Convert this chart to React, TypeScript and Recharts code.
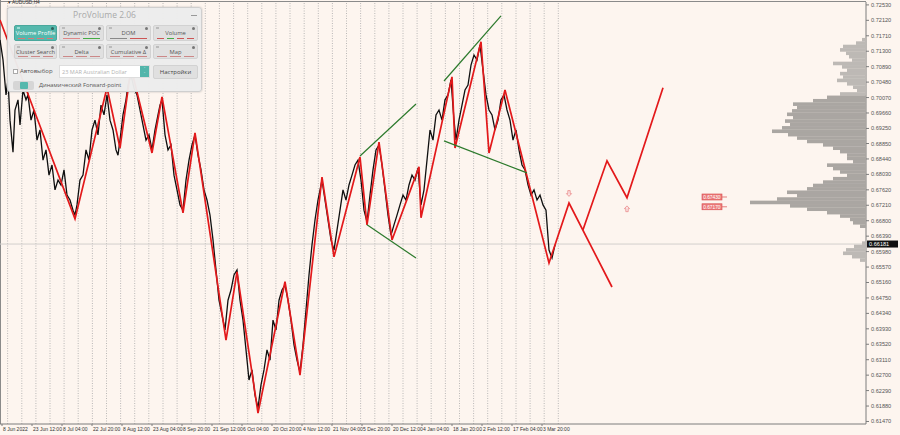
import React from 'react';
import {
  ComposedChart,
  Line,
  XAxis,
  YAxis,
  ReferenceLine,
  ReferenceDot,
  BarChart,
  Bar,
} from 'recharts';

const W = 900;
const H = 435;
const BG = '#fdf5ef';

// ---- axis labels ----
const dateTicks = [2, 32, 62, 92, 122, 152, 182, 212, 242, 272, 302, 332, 362, 392, 422, 452, 482, 512, 542];
const dateLabels = [
  '8 Jun 2022', '23 Jun 12:00', '8 Jul 04:00', '22 Jul 20:00', '8 Aug 12:00', '23 Aug 04:00',
  '8 Sep 20:00', '21 Sep 12:00', '6 Oct 04:00', '20 Oct 20:00', '4 Nov 12:00', '21 Nov 04:00',
  '5 Dec 20:00', '20 Dec 12:00', '4 Jan 04:00', '18 Jan 20:00', '2 Feb 12:00', '17 Feb 04:00', '3 Mar 20:00',
];
const priceTicks = [
  0.7253, 0.7212, 0.7171, 0.713, 0.7089, 0.7048, 0.7007, 0.6966, 0.6925, 0.6885, 0.6844, 0.6803, 0.6762, 0.6721,
  0.668, 0.6639, 0.6598, 0.6557, 0.6516, 0.6475, 0.6434, 0.6393, 0.6352, 0.6311, 0.627, 0.6229, 0.6188, 0.6147,
];
const priceDomain = [0.61403, 0.72607];
const barDomain = [0, 866];

// weekly separators (bar index)
const separators = [
  7.6, 21.8, 35.9, 50, 64.1, 78.2, 92.4, 106.5, 120.6, 134.7, 148.8, 163, 177.1, 191.2, 205.3, 219.4, 233.6, 247.7,
  261.8, 275.9, 290, 304.2, 318.3, 332.4, 346.5, 360.6, 374.8, 388.9, 403, 417.1, 431.2, 445.4, 459.5, 473.6,
  487.7, 501.8, 516, 530.1, 544.2, 558.3,
];

// ---- price (close) ----
const priceBar = [
  0, 3, 6, 8, 10, 13, 15, 18, 20, 23, 26, 28, 31, 34, 37, 40, 43, 46, 49, 52, 55, 58, 61, 64, 67, 70, 73, 75, 77,
  80, 83, 86, 89, 92, 95, 98, 101, 104, 107, 110, 113, 116, 118, 120, 123, 126, 128, 131, 134, 137, 140, 143, 146,
  149, 152, 155, 158, 160, 162, 165, 168, 171, 174, 177, 180, 183, 186, 189, 192, 195, 198, 201, 204, 207, 210, 213,
  216, 219, 222, 225, 228, 231, 234, 237, 240, 243, 246, 249, 252, 255, 258, 261, 264, 267, 270, 273, 276, 279, 282,
  285, 288, 291, 294, 297, 300, 303, 306, 309, 312, 315, 318, 322, 325, 328, 331, 334, 337, 340, 343, 346, 349, 352,
  355, 358, 361, 364, 367, 370, 373, 376, 379, 382, 385, 388, 391, 394, 397, 400, 403, 406, 409, 412, 415, 418, 421,
  424, 427, 430, 433, 436, 439, 442, 445, 448, 451, 454, 456, 459, 462, 465, 468, 471, 474, 477, 480, 483, 486, 489,
  492, 495, 498, 501, 504, 507, 510, 513, 516, 519, 522, 525, 528, 531, 534, 537, 540, 543, 546, 549, 552, 555,
];
const priceClose = [
  0.716, 0.7107, 0.7014, 0.7054, 0.6947, 0.6862, 0.6974, 0.7001, 0.6934, 0.7027, 0.7001, 0.7014, 0.6947, 0.6974,
  0.6894, 0.6921, 0.6841, 0.6868, 0.6801, 0.6828, 0.6762, 0.6788, 0.6775, 0.6815, 0.6748, 0.6735, 0.6708, 0.6695,
  0.6722, 0.6788, 0.6801, 0.6868, 0.6841, 0.6921, 0.6947, 0.6908, 0.6987, 0.6961, 0.7014, 0.6947, 0.6921, 0.6868,
  0.6854, 0.6894, 0.6961, 0.7001, 0.704, 0.7067, 0.7032, 0.7014, 0.6974, 0.6934, 0.6894, 0.6908, 0.6868, 0.6921,
  0.6961, 0.6987, 0.7001, 0.6908, 0.6868, 0.6881, 0.6801, 0.6762, 0.6722, 0.6708, 0.6788, 0.6841, 0.6881, 0.6908,
  0.6854, 0.6815, 0.6762, 0.6735, 0.6695, 0.6629, 0.6549, 0.6469, 0.643, 0.639, 0.6469, 0.6496, 0.6536, 0.6549,
  0.6469, 0.6416, 0.6337, 0.6257, 0.6284, 0.6217, 0.6183, 0.6244, 0.6284, 0.6337, 0.631, 0.6416, 0.639, 0.6469,
  0.6496, 0.6509, 0.6469, 0.6416, 0.635, 0.631, 0.6278, 0.635, 0.6443, 0.6536, 0.6616, 0.6682, 0.6735, 0.6788,
  0.6735, 0.6682, 0.6629, 0.6602, 0.6655, 0.6708, 0.6762, 0.6735, 0.6775, 0.6801, 0.6828, 0.6841, 0.6788, 0.6708,
  0.6677, 0.6748, 0.6815, 0.6868, 0.6881, 0.6828, 0.6762, 0.6695, 0.6642, 0.6669, 0.6695, 0.6722, 0.6748, 0.6735,
  0.6775, 0.6801, 0.6788, 0.682, 0.6722, 0.6762, 0.6841, 0.6921, 0.6894, 0.6961, 0.6974, 0.6947, 0.7001, 0.7014,
  0.7054, 0.6947, 0.6894, 0.6947, 0.6987, 0.7027, 0.704, 0.7093, 0.712, 0.7107, 0.7147, 0.708, 0.7014, 0.6974,
  0.6961, 0.6921, 0.6947, 0.7001, 0.7014, 0.6974, 0.6947, 0.6894, 0.6921, 0.6868, 0.6828, 0.6815, 0.6775, 0.6748,
  0.6762, 0.6735, 0.6748, 0.6722, 0.6708, 0.6602, 0.6581, 0.6616,
];

// ---- zigzag ----
const zigBar = [0, 75, 107, 120, 131, 152, 162, 183, 195, 226, 237, 258, 285, 300, 322, 334, 360, 367, 379, 392, 419, 421, 452, 455, 481, 489, 505, 549, 569, 612];
const zigPrice = [
  0.7213, 0.6685, 0.7033, 0.6873, 0.7086, 0.686, 0.7009, 0.6701, 0.6913, 0.6363, 0.6544, 0.6169, 0.6518, 0.627,
  0.6796, 0.6584, 0.6849, 0.6669, 0.6889, 0.6629, 0.6823, 0.6688, 0.7062, 0.6873, 0.7155, 0.686, 0.7027, 0.6568,
  0.6727, 0.6504,
];
const projBar = [583, 607, 627, 663];
const projPrice = [0.6656, 0.6839, 0.6741, 0.7033];

// ---- trend lines (start bar, start price, end bar, end price) ----
const trendStartBar = [360, 367, 444, 444];
const trendStartPrice = [0.6852, 0.6669, 0.7051, 0.6892];
const trendEndBar = [416, 416, 501, 527];
const trendEndPrice = [0.699, 0.6581, 0.7224, 0.6807];

// ---- markers / levels ----
const arrowBar = [569, 627];
const arrowPrice = [0.6752, 0.6712];
const arrowDir = ['down', 'up'];
const levelBar = [702, 702];
const levelPrice = [0.6743, 0.6717];
const currentPrice = 0.66181;

// ---- volume profile ----
const profilePrice = [
  0.716, 0.7151, 0.7142, 0.7133, 0.7124, 0.7115, 0.7106, 0.7097, 0.7088, 0.7079, 0.707, 0.7061, 0.7052, 0.7043,
  0.7034, 0.7025, 0.7016, 0.7007, 0.6998, 0.6989, 0.698, 0.6971, 0.6962, 0.6953, 0.6944, 0.6935, 0.6926, 0.6917,
  0.6908, 0.6899, 0.689, 0.6881, 0.6872, 0.6863, 0.6854, 0.6845, 0.6836, 0.6827, 0.6818, 0.6809, 0.68, 0.6791,
  0.6782, 0.6773, 0.6764, 0.6755, 0.6746, 0.6737, 0.6728, 0.6719, 0.671, 0.6701, 0.6692, 0.6683, 0.6674, 0.6665,
  0.6656, 0.6647, 0.6638, 0.6629, 0.662, 0.6611, 0.6602, 0.6593, 0.6584, 0.6575,
];
const profileVolume = [
  40, 100, 230, 260, 200, 170, 140, 330, 240, 190, 260, 230, 290, 190, 130, 90, 260, 390, 530, 730, 690, 740, 790,
  730, 810, 760, 840, 940, 780, 690, 590, 430, 330, 260, 190, 190, 130, 390, 330, 260, 190, 330, 430, 530, 590, 790,
  690, 890, 1160, 760, 590, 390, 260, 160, 130, 60, 0, 0, 0, 0, 40, 120, 200, 230, 140, 60,
];
const profileDomain = [0, 8660];

const priceData = priceBar.map((x, i) => ({ x, close: priceClose[i] }));
const zigData = zigBar.map((x, i) => ({ x, zz: zigPrice[i] }));
const projData = projBar.map((x, i) => ({ x, pj: projPrice[i] }));
const profileData = profilePrice.map((p, i) => ({ price: p, vol: profileVolume[i], inVA: i >= 17 && i <= 55 }));

const axisFont = 'Liberation Sans, Arial, sans-serif';

const XTick = (props: any) => {
  const { x, y, payload } = props;
  const idx = dateTicks.indexOf(payload.value);
  return (
    <text
      x={x + 1}
      y={y + 5}
      fontSize={5}
      fill="#333"
      fontFamily="Liberation Sans Narrow, Liberation Sans, Arial, sans-serif"
      textAnchor="start"
    >
      {idx >= 0 ? dateLabels[idx] : ''}
    </text>
  );
};

const YTick = (props: any) => {
  const { x, y, payload } = props;
  return (
    <text x={x} y={y + 2} fontSize={5.6} fill="#555" fontFamily={axisFont} textAnchor="start">
      {Number(payload.value).toFixed(5)}
    </text>
  );
};

const CurrentLabel = (props: any) => {
  const { viewBox } = props;
  if (!viewBox) return null;
  const x0 = viewBox.x + viewBox.width + 1;
  const y0 = viewBox.y;
  return (
    <g>
      <rect x={x0} y={y0 - 3.5} width={31} height={7} fill="#111" />
      <text x={x0 + 2} y={y0 + 2} fontSize={5.6} fill="#fff" fontFamily={axisFont}>
        {currentPrice.toFixed(5)}
      </text>
    </g>
  );
};

const LevelShape = (props: any) => {
  const { cx, cy, text } = props;
  return (
    <g>
      <rect x={cx} y={cy - 3} width={20} height={6} fill="#eb7b7b" stroke="#d84a4a" strokeWidth={0.6} />
      <text x={cx + 1.2} y={cy + 1.8} fontSize={4.8} fill="#fff" fontFamily={axisFont}>
        {text}
      </text>
      <line x1={cx + 20} y1={cy} x2={cx + 25} y2={cy} stroke="#e06060" strokeWidth={0.8} />
    </g>
  );
};

const ArrowShape = (props: any) => {
  const { cx, cy, dir } = props;
  const s = dir === 'down' ? 1 : -1;
  // small outlined block arrow
  const pts = [
    [-1.2, -3 * s],
    [1.2, -3 * s],
    [1.2, 0],
    [2.6, 0],
    [0, 2.8 * s],
    [-2.6, 0],
    [-1.2, 0],
  ]
    .map(([dx, dy]) => `${cx + dx},${cy + dy}`)
    .join(' ');
  return <polygon points={pts} fill="#fbe3e3" stroke="#e88080" strokeWidth={0.7} />;
};

const ProfileShape = (props: any) => {
  const { x, y, width, height, payload } = props;
  if (!width || Math.abs(width) < 0.1) return null;
  const cy = y + height / 2;
  const left = Math.min(x, x + width);
  return (
    <rect
      x={left}
      y={cy - 1.8}
      width={Math.abs(width)}
      height={3.6}
      fill={payload && payload.inVA ? '#aaa6a2' : '#bdb9b5'}
    />
  );
};

const btnFont = 'Open Sans, Noto Sans, sans-serif';

const buttons = [
  ['Volume Profile', 'Dynamic POC', 'DOM', 'Volume'],
  ['Cluster Search', 'Delta', 'Cumulative Δ', 'Map'],
];

const Panel = () => {
  const colLeft = [6, 51, 98, 145];
  const colW = [43, 45, 45, 45];
  const rowTop = [17, 36];
  const rowH = [16, 15];
  const dashColors = [
    ['#c66', '#c66', '#c66', '#c66'],
    ['#d88', '#4a4'],
    ['#888', '#c55'],
    ['#c55', '#4a4', '#c55', '#c55'],
  ];
  return (
    <div
      style={{
        position: 'absolute',
        left: 7,
        top: 7,
        width: 195,
        height: 85,
        background: 'rgba(236,236,236,0.97)',
        border: '1px solid #cfcfcf',
        borderRadius: 3,
        boxShadow: '0 0 2px rgba(0,0,0,0.25)',
        fontFamily: btnFont,
        boxSizing: 'border-box',
      }}
    >
      <div
        style={{
          position: 'absolute',
          left: 0,
          top: 1,
          width: '100%',
          textAlign: 'center',
          fontSize: 8.5,
          color: '#a9a9a9',
          lineHeight: '12px',
        }}
      >
        ProVolume 2.06
      </div>
      <div style={{ position: 'absolute', right: 4, top: 7, width: 6, height: 1, background: '#999' }} />
      {buttons.map((row, r) =>
        row.map((label, c) => {
          const active = r === 0 && c === 0;
          return (
            <div
              key={label}
              style={{
                position: 'absolute',
                left: colLeft[c],
                top: rowTop[r],
                width: colW[c],
                height: rowH[r],
                background: active ? '#55b8ad' : '#e0e0e0',
                border: active ? '1px solid #4aa79c' : '1px solid #d2d2d2',
                borderRadius: 2,
                boxSizing: 'border-box',
              }}
            >
              <div style={{ position: 'absolute', left: 2, top: 1, width: 3, height: 2, background: active ? '#9fdcd4' : '#bbb' }} />
              <div
                style={{
                  position: 'absolute',
                  right: 2,
                  top: 1,
                  width: 3,
                  height: 3,
                  borderRadius: 2,
                  background: active ? '#2f5f59' : '#777',
                }}
              />
              <div
                style={{
                  position: 'absolute',
                  left: 0,
                  top: 3,
                  width: '100%',
                  textAlign: 'center',
                  fontSize: 5.8,
                  lineHeight: '8px',
                  color: active ? '#fff' : '#555',
                  whiteSpace: 'nowrap',
                }}
              >
                {label}
              </div>
              <div style={{ position: 'absolute', left: 3, right: 3, bottom: 1, height: 1, display: 'flex', gap: 3 }}>
                {(r === 0 ? dashColors[c] : ['#c88', '#c88', '#c88']).map((col, k) => (
                  <div key={k} style={{ flex: 1, height: 1, background: active ? '#d77' : col }} />
                ))}
              </div>
            </div>
          );
        })
      )}
      <div
        style={{
          position: 'absolute',
          left: 5,
          top: 61,
          width: 5,
          height: 5,
          background: '#fff',
          border: '1px solid #aaa',
          boxSizing: 'border-box',
        }}
      />
      <div style={{ position: 'absolute', left: 12, top: 59, fontSize: 6, color: '#555', lineHeight: '9px' }}>
        Автовыбор
      </div>
      <div
        style={{
          position: 'absolute',
          left: 51,
          top: 57,
          width: 91,
          height: 13,
          background: '#fff',
          border: '1px solid #ddd',
          boxSizing: 'border-box',
        }}
      >
        <div style={{ position: 'absolute', left: 2, top: 2, fontSize: 5.6, color: '#b3b3b3', lineHeight: '8px', whiteSpace: 'nowrap' }}>
          23 MAR Australian Dollar
        </div>
        <div
          style={{
            position: 'absolute',
            right: 0,
            top: 0,
            width: 9,
            height: 11,
            background: '#52b5aa',
            color: '#fff',
            fontSize: 4,
            lineHeight: '5px',
            textAlign: 'center',
          }}
        >
          ˄<br />˅
        </div>
      </div>
      <div
        style={{
          position: 'absolute',
          left: 145,
          top: 57,
          width: 45,
          height: 14,
          background: '#e0e0e0',
          border: '1px solid #d2d2d2',
          borderRadius: 2,
          boxSizing: 'border-box',
          textAlign: 'center',
          fontSize: 6,
          lineHeight: '12px',
          color: '#444',
        }}
      >
        Настройки
      </div>
      <div
        style={{
          position: 'absolute',
          left: 5,
          top: 73,
          width: 21,
          height: 9,
          background: '#d6d6d6',
          borderRadius: 2,
        }}
      >
        <div style={{ position: 'absolute', left: 7, top: 1, width: 8, height: 7, background: '#55b8ad', borderRadius: 1 }} />
      </div>
      <div style={{ position: 'absolute', left: 31, top: 73, fontSize: 5.8, color: '#555', lineHeight: '9px', whiteSpace: 'nowrap' }}>
        Динамический Forward-point
      </div>
    </div>
  );
};

export default function App() {
  const margin = { top: 2, right: 0, left: 0, bottom: 0 };
  return (
    <div style={{ position: 'relative', width: W, height: H, background: BG, overflow: 'hidden', fontFamily: axisFont }}>
      <style>{'body{margin:0;}'}</style>
      <div style={{ position: 'absolute', left: 0, top: 1, width: 866, height: 1, background: '#8a8a8a' }} />
      <div style={{ position: 'absolute', left: 0, top: 0, width: 1, height: 424, background: '#8a8a8a' }} />
      <div style={{ position: 'absolute', left: 0, top: 0 }}>
        <ComposedChart width={W} height={H} data={priceData} margin={margin}>
          <XAxis
            dataKey="x"
            type="number"
            domain={barDomain}
            ticks={dateTicks}
            interval={0}
            height={11}
            tick={<XTick />}
            tickSize={2}
            tickMargin={0}
            axisLine={{ stroke: '#7d7d7d' }}
            tickLine={{ stroke: '#7d7d7d' }}
            allowDataOverflow
          />
          <YAxis
            orientation="right"
            type="number"
            domain={priceDomain}
            ticks={priceTicks}
            interval={0}
            width={34}
            tick={<YTick />}
            tickSize={3}
            tickMargin={2}
            axisLine={{ stroke: '#7d7d7d' }}
            tickLine={{ stroke: '#7d7d7d' }}
            allowDataOverflow
          />
          {separators.map((s) => (
            <ReferenceLine key={s} x={s} stroke="#a8a8a8" strokeDasharray="1 1.5" strokeWidth={0.8} />
          ))}
          <ReferenceLine y={currentPrice} stroke="#d2cfcc" strokeWidth={1} label={<CurrentLabel />} />
          <Line
            dataKey="close"
            stroke="#101010"
            strokeWidth={1.3}
            dot={false}
            isAnimationActive={false}
          />
          <Line
            data={zigData}
            dataKey="zz"
            stroke="#e3191b"
            strokeWidth={1.7}
            dot={false}
            isAnimationActive={false}
          />
          <Line
            data={projData}
            dataKey="pj"
            stroke="#e3191b"
            strokeWidth={1.7}
            dot={false}
            isAnimationActive={false}
          />
          {trendStartBar.map((b, i) => (
            <ReferenceLine
              key={'t' + i}
              segment={[
                { x: b, y: trendStartPrice[i] },
                { x: trendEndBar[i], y: trendEndPrice[i] },
              ]}
              stroke="#2c7a2c"
              strokeWidth={1.2}
              ifOverflow="visible"
            />
          ))}
          {arrowBar.map((b, i) => (
            <ReferenceDot
              key={'a' + i}
              x={b}
              y={arrowPrice[i]}
              r={0}
              shape={(p: any) => <ArrowShape {...p} dir={arrowDir[i]} />}
            />
          ))}
          {levelBar.map((b, i) => (
            <ReferenceDot
              key={'l' + i}
              x={b}
              y={levelPrice[i]}
              r={0}
              shape={(p: any) => <LevelShape {...p} text={levelPrice[i].toFixed(5)} />}
            />
          ))}
        </ComposedChart>
      </div>
      <div style={{ position: 'absolute', left: 0, top: 0, pointerEvents: 'none' }}>
        <BarChart
          width={W}
          height={H}
          data={profileData}
          layout="vertical"
          margin={{ top: 2, right: 34, left: 0, bottom: 11 }}
          barCategoryGap={0}
          barGap={0}
        >
          <XAxis type="number" domain={profileDomain} reversed hide allowDataOverflow />
          <YAxis type="number" dataKey="price" domain={priceDomain} reversed hide allowDataOverflow />
          <Bar dataKey="vol" isAnimationActive={false} shape={<ProfileShape />} />
        </BarChart>
      </div>
      <div style={{ position: 'absolute', left: 8, top: 0, fontSize: 4.8, color: '#333', lineHeight: '6px' }}>
        ▾ AUDUSD,H4
      </div>
      <Panel />
    </div>
  );
}
